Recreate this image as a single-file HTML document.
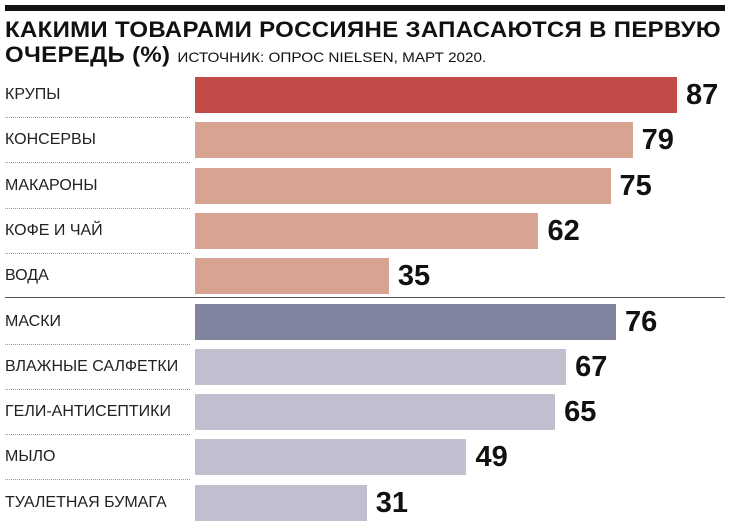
<!DOCTYPE html><html><head><meta charset="utf-8"><style>
body{margin:0;width:730px;height:530px;background:#fff;position:relative;overflow:hidden;font-family:"Liberation Sans",sans-serif}
.t{position:absolute;left:5px;font-weight:900;font-size:22px;color:#111;letter-spacing:0.3px;white-space:nowrap;transform:scaleX(1.09);transform-origin:left}
.l{position:absolute;left:5px;font-size:16px;color:#222;white-space:nowrap}
.b{position:absolute;left:195px;height:36px}
.n{position:absolute;font-weight:bold;font-size:29px;color:#111}
.d{position:absolute;left:5px;width:185px;border-top:1px dotted #999}
</style></head><body>
<div style="position:absolute;left:5px;top:5px;width:720px;height:6px;background:#111"></div>
<div class="t" style="top:17px">КАКИМИ ТОВАРАМИ РОССИЯНЕ ЗАПАСАЮТСЯ В ПЕРВУЮ</div>
<div class="t" style="top:42px">ОЧЕРЕДЬ (%) <span style="font-weight:normal;font-size:14px;letter-spacing:0">ИСТОЧНИК: ОПРОС NIELSEN, МАРТ 2020.</span></div>
<div style="position:absolute;left:5px;top:297px;width:720px;height:1px;background:#555"></div>
<div id="c"></div>
<script>
var d=[["КРУПЫ",87,"#c24b48"],["КОНСЕРВЫ",79,"#d6a490"],["МАКАРОНЫ",75,"#d6a490"],["КОФЕ И ЧАЙ",62,"#d6a490"],["ВОДА",35,"#d6a490"],["МАСКИ",76,"#80849e"],["ВЛАЖНЫЕ САЛФЕТКИ",67,"#c0bfcf"],["ГЕЛИ-АНТИСЕПТИКИ",65,"#c0bfcf"],["МЫЛО",49,"#c0bfcf"],["ТУАЛЕТНАЯ БУМАГА",31,"#c0bfcf"]];
var h="";d.forEach(function(r,i){var y=77+i*45.3;var w=r[1]*5.54;
h+='<div class="l" style="top:'+(y+9)+'px">'+r[0]+'</div><div class="b" style="top:'+y+'px;width:'+w+'px;background:'+r[2]+'"></div><div class="n" style="top:'+(y+2)+'px;left:'+(195+w+9)+'px">'+r[1]+'</div>';
if(i!=4&&i!=9)h+='<div class="d" style="top:'+(y+40)+'px"></div>';});
document.getElementById("c").innerHTML=h;
</script></body></html>
